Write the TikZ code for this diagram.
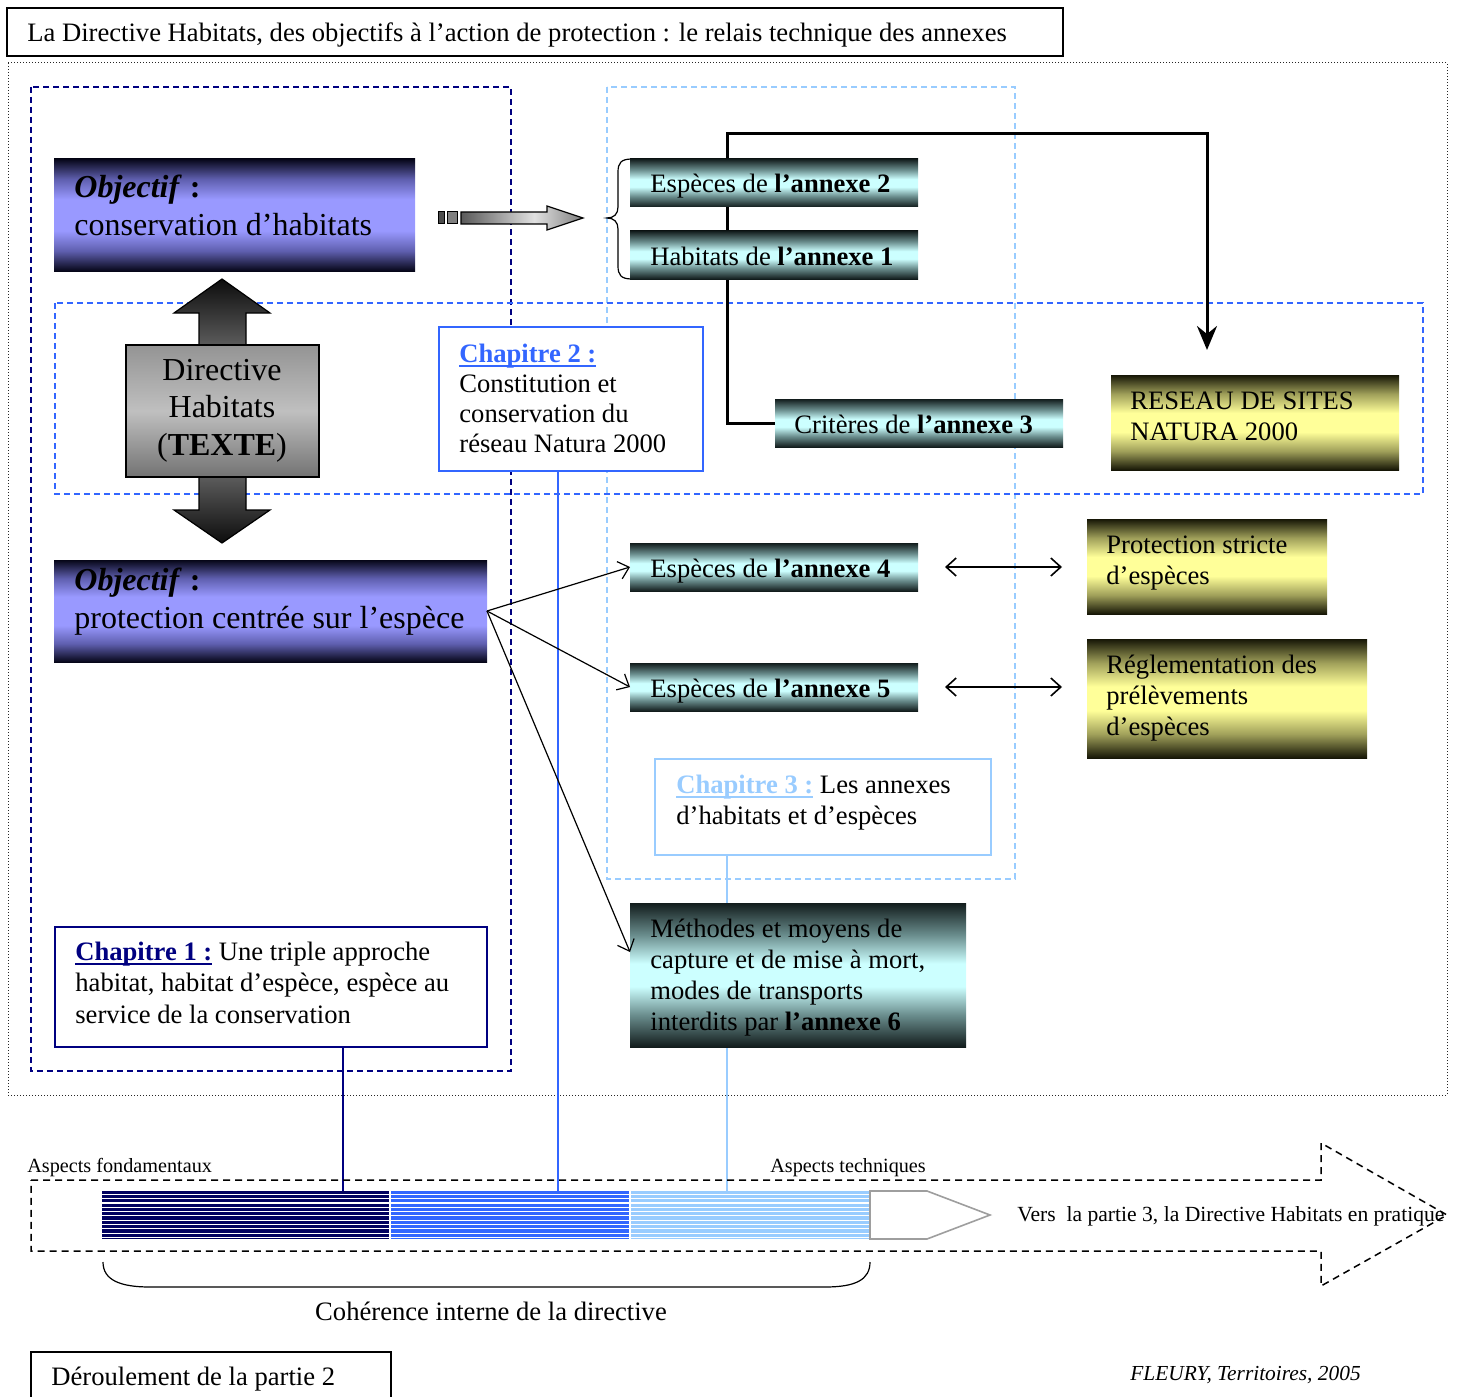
\documentclass[tikz,border=0pt]{standalone}
\usepackage{fontspec}
\setmainfont{Liberation Serif}
\usetikzlibrary{arrows.meta}

% palette
\definecolor{navyc}{RGB}{0,0,128}
\definecolor{navybar}{RGB}{0,0,96}
\definecolor{royal}{RGB}{51,102,255}
\definecolor{skyc}{RGB}{153,204,255}
\definecolor{cyD}{RGB}{18,28,28}
\definecolor{cyM}{RGB}{105,140,140}
\definecolor{cyL}{RGB}{204,255,255}
\definecolor{puD}{RGB}{6,6,24}
\definecolor{puM}{RGB}{95,95,175}
\definecolor{puL}{RGB}{153,153,255}
\definecolor{yeD}{RGB}{22,22,6}
\definecolor{yeM}{RGB}{160,160,90}
\definecolor{yeL}{RGB}{255,255,153}

% heading underline in the current text colour
\newcommand\chapul[1]{\setbox0\hbox{#1}\rlap{\rule[-2.6pt]{\wd0}{1pt}}\box0}

% band shadings: dark edges, light centre
\pgfdeclareverticalshading{cyanband}{100bp}{color(0bp)=(cyD); color(25bp)=(cyD); color(36bp)=(cyM); color(46bp)=(cyL); color(54bp)=(cyL); color(64bp)=(cyM); color(75bp)=(cyD); color(100bp)=(cyD)}
\pgfdeclareverticalshading{purpleband}{100bp}{color(0bp)=(puD); color(25bp)=(puD); color(34bp)=(puM); color(43bp)=(puL); color(57bp)=(puL); color(66bp)=(puM); color(75bp)=(puD); color(100bp)=(puD)}
\pgfdeclareverticalshading{yellowband}{100bp}{color(0bp)=(yeD); color(25bp)=(yeD); color(35bp)=(yeM); color(45bp)=(yeL); color(55bp)=(yeL); color(65bp)=(yeM); color(75bp)=(yeD); color(100bp)=(yeD)}
\pgfdeclareverticalshading{dirarrow}{100bp}{color(0bp)=(black!95); color(25bp)=(black!95); color(40bp)=(black!58); color(60bp)=(black!58); color(75bp)=(black!95); color(100bp)=(black!95)}
\pgfdeclareverticalshading{dirbody}{100bp}{color(0bp)=(black!55); color(25bp)=(black!55); color(50bp)=(black!25); color(75bp)=(black!42); color(100bp)=(black!42)}
\pgfdeclarehorizontalshading{grayarrow}{100bp}{color(0bp)=(black!65); color(25bp)=(black!65); color(55bp)=(black!12); color(75bp)=(black!50); color(100bp)=(black!50)}

\tikzset{
  boxbase/.style={anchor=north west, inner sep=0pt, outer sep=0pt},
  cyanbox/.style={boxbase, shade, shading=cyanband},
  purplebox/.style={boxbase, shade, shading=purpleband},
  yellowbox/.style={boxbase, shade, shading=yellowband},
  chapbox/.style={boxbase, draw=#1, fill=white, line width=1pt},
  txt/.style={anchor=base west, align=left, inner sep=0pt, font=\fontsize{13.3pt}{15.5pt}\selectfont},
  bigtxt/.style={txt, font=\fontsize{16pt}{19pt}\selectfont},
  smalltxt/.style={anchor=base west, inner sep=0pt, font=\fontsize{10.1pt}{12pt}\selectfont},
  conn/.style={line width=1.5pt},
  thinarrow/.style={line width=0.6pt, -{Straight Barb[length=5pt,width=9pt]}},
  dblarrow/.style={line width=0.8pt, {Straight Barb[length=5pt,width=9pt]}-{Straight Barb[length=5pt,width=9pt]}},
  dashframe/.style={dash pattern=on 3pt off 2pt, line width=0.8pt},
}

\begin{document}
\begin{tikzpicture}[x=0.5pt, y=-0.5pt]
\useasboundingbox (0,0) rectangle (1460,1396);

% title
\node[boxbase, draw, line width=0.6pt, minimum width=528pt, minimum height=24pt] (title) at (7,8) {};
\node[txt] (ttitle) at (27,42) {La Directive Habitats, des objectifs à l’action de protection : le relais technique des annexes};

% frames
\draw[black!85, line width=0.5pt, dash pattern=on 0.5pt off 1pt] (8,63) rectangle (1447,1095);
\draw[dashframe, navyc] (31,87) rectangle (511,1071);
\draw[dashframe, skyc] (607,87) rectangle (1015,879);
\draw[dashframe, royal] (55,303) rectangle (1423,494);

% chapter boxes
\node[chapbox=royal, minimum width=132pt, minimum height=72pt] (ch2) at (439,327) {};
\node[chapbox=skyc, minimum width=168pt, minimum height=48pt] (ch3) at (655,759) {};
\node[chapbox=navyc, minimum width=216pt, minimum height=60pt] (ch1) at (55,927) {};

% progress bar
\node[boxbase, fill=navybar, minimum width=144pt, minimum height=24pt] (seg1) at (102,1191) {};
\node[boxbase, fill=royal, minimum width=120pt, minimum height=24pt] (seg2) at (390,1191) {};
\node[boxbase, fill=skyc, minimum width=120pt, minimum height=24pt] (seg3) at (630,1191) {};
\foreach \k in {0,...,10}
  \draw[white, line width=0.55pt] (102,{1194.4+\k*4.3}) -- (870,{1194.4+\k*4.3});
\draw[white, line width=0.6pt] (390,1191) -- (390,1239) (630,1191) -- (630,1239);
\draw[black!38, fill=white, line width=0.8pt] (870,1191) -- (927,1191) -- (990,1215) -- (927,1239) -- (870,1239) -- cycle;

% chapter links down to the bar
\coordinate (c1x) at (343,0);
\coordinate (c2x) at (558,0);
\coordinate (c3x) at (727,0);
\draw[navyc, line width=0.6pt] (ch1.south -| c1x) -- (seg1.north -| c1x);
\draw[royal, line width=0.6pt] (ch2.south -| c2x) -- (seg2.north -| c2x);
\draw[skyc, line width=0.6pt] (ch3.south -| c3x) -- (seg3.north -| c3x);

% big dashed arrow
\draw[dash pattern=on 3.5pt off 2.5pt, line width=0.75pt] (31,1180) -- (1321,1180) -- (1321,1143) -- (1447,1215) -- (1321,1286) -- (1321,1251) -- (31,1251) -- cycle;

% bracket under the bar
\draw[line width=0.6pt] (103,1262) .. controls (103,1280) and (120,1287) .. (150,1287) -- (825,1287) .. controls (855,1287) and (870,1280) .. (870,1262);

% the Directive double arrow
\path[shade, shading=dirarrow, draw=black, line width=0.6pt] (222,279) -- (270,313) -- (246,313) -- (246,510) -- (270,510) -- (222,543) -- (174,510) -- (199,510) -- (199,313) -- (174,313) -- cycle;
\node[boxbase, shade, shading=dirbody, draw=black, line width=0.6pt, minimum width=96.5pt, minimum height=66pt] (dirbox) at (126,345) {};
\node[anchor=base, align=center, inner sep=0pt, font=\fontsize{16pt}{18.75pt}\selectfont] (tdir) at (222,455) {Directive\\Habitats\\(\textbf{TEXTE})};

% grey arrow towards the annexes
\filldraw[fill=black!70, line width=0.5pt] (438,212) rectangle (444,224);
\filldraw[fill=black!50, line width=0.5pt] (447,212) rectangle (457,224);
\path[shade, shading=grayarrow, draw=black, line width=0.6pt] (461,212) -- (547,212) -- (547,206) -- (583,218) -- (547,230) -- (547,224) -- (461,224) -- cycle;

% brace grouping annexes 1 and 2
\draw[line width=0.6pt] (632,159) .. controls (621,159) and (618,163) .. (618,172) -- (618,207) .. controls (618,214) and (614,218) .. (607,218) .. controls (614,218) and (618,222) .. (618,229) -- (618,266) .. controls (618,275) and (621,279) .. (632,279);

% network connector
\node[cyanbox, minimum width=144pt, minimum height=24pt] (crit) at (775,399) {};
\node[yellowbox, minimum width=144pt, minimum height=47.5pt] (reseau) at (1111,375) {};
\coordinate (hub) at (727,134);
\coordinate (netin) at (1207,350);
\draw[conn, -{Stealth[length=12pt,width=10pt,inset=4pt]}] (crit.west) -| (hub) -| (netin);

% objectives
\node[purplebox, minimum width=180.5pt, minimum height=56pt] (obj1) at (54,159) {};
\node[purplebox, minimum width=216.5pt, minimum height=51pt] (obj2) at (54,560) {};

% annex boxes
\node[cyanbox, minimum width=144pt, minimum height=24pt] (a2) at (630,159) {};
\node[cyanbox, minimum width=144pt, minimum height=24pt] (a1) at (630,231) {};
\node[cyanbox, minimum width=144pt, minimum height=24pt] (a4) at (630,543) {};
\node[cyanbox, minimum width=144pt, minimum height=24pt] (a5) at (630,663) {};
\node[cyanbox, minimum width=168pt, minimum height=72pt] (meth) at (630,903) {};

% protection boxes
\node[yellowbox, minimum width=120pt, minimum height=47.5pt] (prot) at (1087,519) {};
\node[yellowbox, minimum width=140pt, minimum height=59.5pt] (regl) at (1087,639) {};

% species arrows
\draw[thinarrow] (obj2.east) -- (a4.west);
\draw[thinarrow] (obj2.east) -- (a5.west);
\draw[thinarrow] (obj2.east) -- ([yshift=11.5pt]meth.west);
\draw[dblarrow] ([xshift=13.5pt]a4.east) -- ([xshift=-12.5pt]prot.west |- a4.east);
\draw[dblarrow] ([xshift=13.5pt]a5.east) -- ([xshift=-12.5pt]regl.west |- a5.east);

% texts (multi-line nodes are placed by the baseline of their last line)
\node[bigtxt] (tobj1) at (74,235) {\textbf{\textit{Objectif}}\textbf{ :}\\conservation d’habitats};
\node[bigtxt] (tobj2) at (74,628) {\textbf{\textit{Objectif}}\textbf{ :}\\protection centrée sur l’espèce};
\node[txt] (ta2) at (650,193) {Espèces de \textbf{l’annexe 2}};
\node[txt] (ta1) at (650,265) {Habitats de \textbf{l’annexe 1}};
\node[txt] (tcrit) at (794,433) {Critères de \textbf{l’annexe 3}};
\node[txt] (ta4) at (650,577) {Espèces de \textbf{l’annexe 4}};
\node[txt] (ta5) at (650,697) {Espèces de \textbf{l’annexe 5}};
\node[txt] (tmeth) at (650,1030) {Méthodes et moyens de\\capture et de mise à mort,\\modes de transports\\interdits par \textbf{l’annexe 6}};
\node[txt] (treseau) at (1130,440) {RESEAU DE SITES\\NATURA 2000};
\node[txt] (tprot) at (1106,584) {Protection stricte\\d’espèces};
\node[txt] (tregl) at (1106,735) {Réglementation des\\prélèvements\\d’espèces};
\node[txt, font=\fontsize{13.3pt}{15pt}\selectfont] (tch2) at (459,452) {\textcolor{royal}{\chapul{\textbf{Chapitre 2 :}}}\\Constitution et\\conservation du\\réseau Natura 2000};
\node[txt] (tch3) at (676,824) {\textcolor{skyc}{\chapul{\textbf{Chapitre 3 :}}} Les annexes\\d’habitats et d’espèces};
\node[txt, font=\fontsize{13.3pt}{15.75pt}\selectfont] (tch1) at (75,1023) {\textcolor{navyc}{\chapul{\textbf{Chapitre 1 :}}} Une triple approche\\habitat, habitat d’espèce, espèce au\\service de la conservation};

\node[smalltxt] (tfond) at (27,1172) {Aspects fondamentaux};
\node[smalltxt] (ttech) at (770,1172) {Aspects techniques};
\node[smalltxt, font=\fontsize{10.8pt}{12pt}\selectfont] (tvers) at (1017,1221) {Vers\ \ la partie 3, la Directive Habitats en pratique};
\node[anchor=base, inner sep=0pt, font=\fontsize{13.3pt}{15pt}\selectfont] (tcoh) at (491,1320) {Cohérence interne de la directive};

% footer
\draw[line width=0.6pt] (31,1400) -- (31,1352) -- (391,1352) -- (391,1400);
\node[txt] (tderoul) at (51,1385) {Déroulement de la partie 2};
\node[smalltxt, font=\fontsize{10.7pt}{12pt}\itshape] (tsrc) at (1130,1380) {FLEURY, Territoires, 2005};
\end{tikzpicture}
\end{document}
